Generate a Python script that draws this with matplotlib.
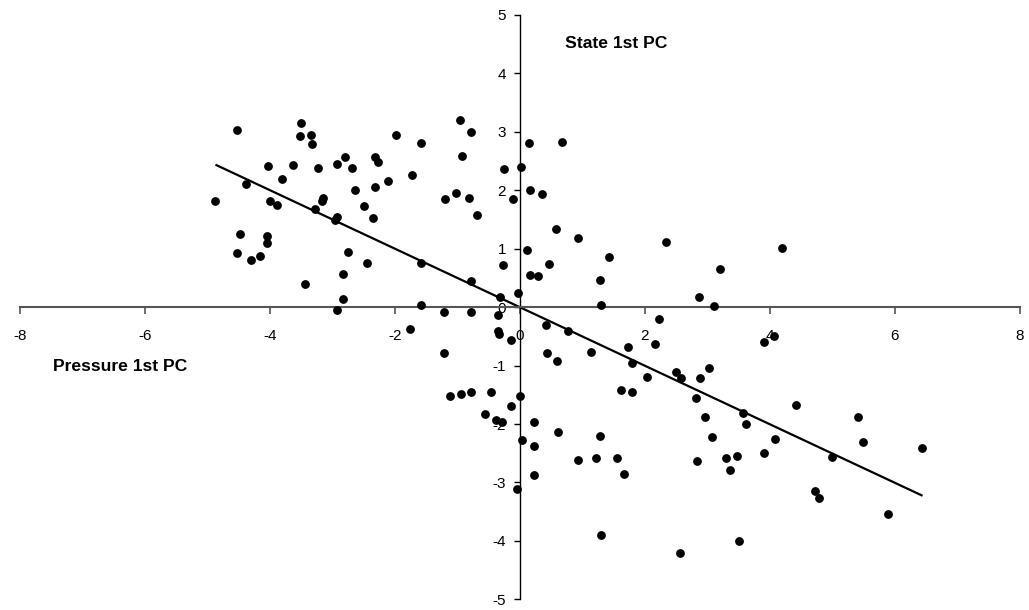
import matplotlib
matplotlib.use("Agg")
import matplotlib.pyplot as plt

plt.rcParams['font.family'] = ['Liberation Sans', 'DejaVu Sans']
plt.rcParams['axes.unicode_minus'] = False

pressure_pc = [
    -4.53, -4.38, -4.88, -4.49, -4.53, -4.31, -4.16, -4.045, -4.045, -4.03,
    -4.01, -3.89, -3.81, -3.64, -3.50, -3.53, -3.35, -3.33, -3.24, -3.45,
    -3.275, -3.17, -3.15, -2.965, -2.93, -2.93, -2.80, -2.69, -2.76, -2.84,
    -2.84, -2.93, -2.645, -2.49, -2.45, -2.36, -2.32, -2.27, -2.32, -2.12,
    -1.99, -1.73, -1.59, -1.58, -1.59, -1.20, -1.22, -1.03, -0.96, -0.935,
    -0.82, -0.785, -0.79, -0.785, -0.695, -0.36, -0.32, -0.28, -0.26, -0.11,
    -0.04, 0.01, 0.12, 0.14, 0.16, 0.16, 0.68, 0.36, 0.58, 0.93,
    0.47, 0.29, 1.43, 1.28, 1.30, 2.33, 3.21, 2.86, 3.10, 4.20,
    2.23, -1.76, -0.36, -0.34, -0.14, -1.22, -1.12, -0.94, -0.785, -0.46,
    0.0, -0.15, -0.56, -0.39, -0.29, -0.05, 0.42, 0.77, 0.44, 0.59,
    1.13, 1.73, 2.16, 1.80, 2.03, 1.61, 1.80, 2.50, 2.58, 2.885,
    3.03, 2.82, 2.97, 3.08, 2.84, 3.295, 3.47, 3.36, 3.57, 3.62,
    3.51, 2.56, 1.30, 3.90, 4.06, 3.90, 4.08, 4.42, 4.99, 4.73,
    4.79, 5.42, 5.49, 5.90, 6.43, 0.23, 0.04, 0.22, 0.22, 0.61,
    0.93, 1.22, 1.28, 1.56, 1.67,
]
state_pc = [
    3.03, 2.10, 1.82, 1.26, 0.93, 0.81, 0.88, 1.21, 1.09, 2.41,
    1.82, 1.75, 2.19, 2.43, 3.15, 2.93, 2.95, 2.79, 2.38, 0.40,
    1.68, 1.82, 1.87, 1.50, 1.55, 2.45, 2.57, 2.38, 0.95, 0.56,
    0.14, -0.05, 2.01, 1.73, 0.75, 1.52, 2.57, 2.48, 2.05, 2.16,
    2.95, 2.27, 2.81, 0.76, 0.04, 1.85, -0.075, 1.96, 3.20, 2.59,
    1.87, 2.99, 0.44, -0.075, 1.585, -0.14, 0.18, 0.72, 2.36, 1.85,
    0.25, 2.40, 0.98, 2.81, 2.01, 0.55, 2.82, 1.93, 1.33, 1.19,
    0.74, 0.53, 0.86, 0.46, 0.04, 1.12, 0.65, 0.18, 0.02, 1.01,
    -0.21, -0.38, -0.405, -0.46, -0.57, -0.78, -1.52, -1.48, -1.46, -1.46,
    -1.52, -1.69, -1.83, -1.93, -1.97, -3.11, -0.30, -0.40, -0.78, -0.92,
    -0.76, -0.69, -0.63, -0.96, -1.20, -1.41, -1.455, -1.11, -1.22, -1.22,
    -1.04, -1.55, -1.88, -2.23, -2.63, -2.58, -2.54, -2.79, -1.81, -2.00,
    -4.01, -4.20, -3.90, -0.59, -0.50, -2.49, -2.25, -1.67, -2.56, -3.15,
    -3.26, -1.88, -2.30, -3.54, -2.41, -1.97, -2.28, -2.37, -2.88, -2.14,
    -2.61, -2.58, -2.21, -2.58, -2.86,
]

fit_x = [-4.86, 6.43]
fit_y = [2.43, -3.22]

x_ticks = [-8, -6, -4, -2, 0, 2, 4, 6, 8]
y_ticks = [-5, -4, -3, -2, -1, 0, 1, 2, 3, 4, 5]

fig = plt.figure(figsize=(10.29, 6.10), dpi=100)
ax = fig.add_axes([20.4 / 1029, 10.7 / 610, 999.2 / 1029, 584.3 / 610])

ax.plot(fit_x, fit_y, color='black', linewidth=1.6, zorder=2)
ax.plot(pressure_pc, state_pc, 'o', color='black', markersize=5.3, zorder=3)

ax.set_xlim(-8, 8)
ax.set_ylim(-5, 5)
ax.set_xticks(x_ticks)
ax.set_yticks(y_ticks)

ax.spines['left'].set_position(('data', 0))
ax.spines['bottom'].set_position(('data', 0))
ax.spines['right'].set_visible(False)
ax.spines['top'].set_visible(False)
ax.spines['bottom'].set_color('#555555')
ax.spines['bottom'].set_linewidth(1.5)
ax.spines['left'].set_color('#000000')
ax.spines['left'].set_linewidth(1.0)

ax.tick_params(axis='x', direction='out', length=5, width=1.2, color='#555555',
               pad=11, labelsize=11)
ax.tick_params(axis='y', direction='out', length=4, width=1.0, color='black',
               pad=6, labelsize=11)

ax.text(0.72, 4.52, 'State 1st PC', fontsize=12.6, fontweight='bold',
        ha='left', va='center')
ax.text(-7.47, -1.02, 'Pressure 1st PC', fontsize=12.6, fontweight='bold',
        ha='left', va='center')

fig.savefig('out.png', dpi=100)
